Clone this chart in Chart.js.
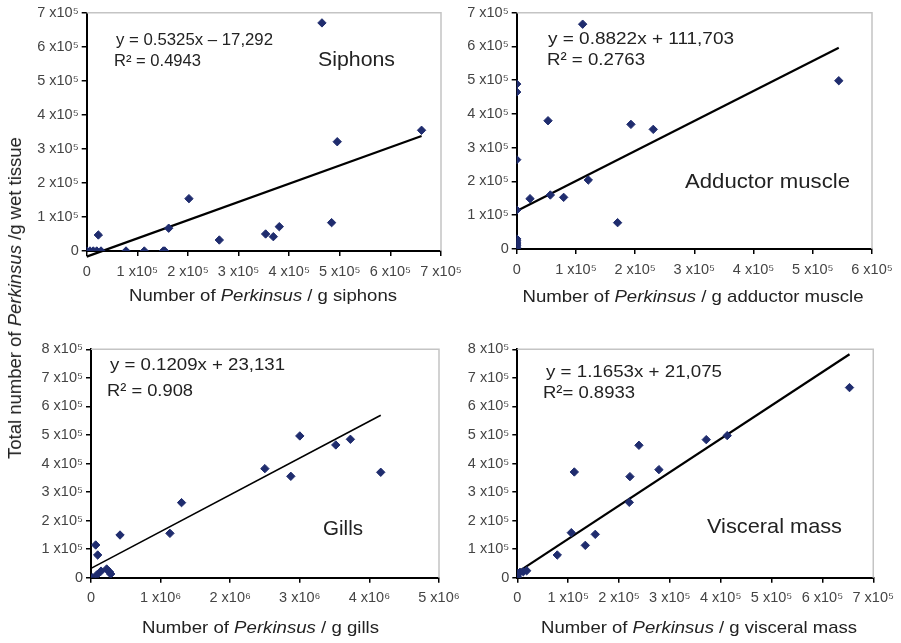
<!DOCTYPE html>
<html>
<head>
<meta charset="utf-8">
<script src="https://cdn.jsdelivr.net/npm/chart.js@4.4.1/dist/chart.umd.min.js"></script>
<style>
  body { margin: 0; background: #fff; }
  #wrap { position: relative; width: 901px; height: 643px; }
  #wrap canvas { position: absolute; left: 0; top: 0; }
  #ytitle {
    position: absolute; left: 14.5px; top: 298px; white-space: nowrap;
    transform: translate(-50%, -50%) rotate(-90deg);
    font-family: "Liberation Sans", Arial, sans-serif; font-size: 18.5px; color: #222;
  }
</style>
</head>
<body>
<div id="wrap">
  <canvas id="c1" width="901" height="643"></canvas>
  <canvas id="c2" width="901" height="643"></canvas>
  <canvas id="c3" width="901" height="643"></canvas>
  <canvas id="c4" width="901" height="643"></canvas>
  <div id="ytitle">Total number of <i>Perkinsus</i> /g wet tissue</div>
</div>
<script>
// --- data ---
var siphonsX = [0, 6500, 13000, 19800, 28300, 23000, 77700, 113800, 151400, 154000, 162000, 202000, 262000, 353500, 368700, 380500, 464800, 483900, 495000, 661600];
var siphonsY = [0, 0, 0, 0, 0, 47000, 0, 0, 0, 0, 67000, 153800, 32300, 50000, 42100, 71500, 670000, 83300, 321000, 354600];
var siphonsFitX = [0, 661600];
var siphonsFitY = [-16600, 337900];

var adductorX = [0, 0, 0, 0, 0, 0, 0, 0, 0, 0, 0, 22500, 52900, 56800, 79300, 111400, 120900, 170400, 192900, 230600, 543900];
var adductorY = [488600, 465000, 264600, 115500, 30000, 25000, 20000, 15000, 10000, 5000, 0, 149000, 380000, 160000, 153000, 666000, 204300, 78000, 369200, 354400, 498500];
var adductorFitX = [0, 543900];
var adductorFitY = [112500, 596000];

var gillsX = [14000, 67500, 96000, 82000, 144000, 225000, 263000, 283000, 417000, 1134000, 1301000, 2498000, 2871000, 3000000, 3517000, 3727000, 4163000];
var gillsY = [0, 114500, 79500, 9500, 23000, 30500, 21000, 13000, 149500, 155400, 262900, 382000, 355100, 496500, 465000, 484800, 369200];
var gillsFitX = [0, 4163000];
var gillsFitY = [32700, 569000];

var visceralX = [0, 0, 660, 5300, 11800, 18500, 78600, 106200, 112100, 133700, 153300, 220200, 221500, 239200, 278500, 371600, 412800, 653300];
var visceralY = [0, 3500, 15000, 18900, 21000, 24500, 79500, 157700, 370300, 113300, 151900, 264000, 354000, 463800, 378500, 483600, 497700, 665900];
var visceralFitX = [0, 653300];
var visceralFitY = [18700, 782700];

var FONT = '"Liberation Sans", Arial, sans-serif';
var MARK = '#1f2c6e';

function pairs(xs, ys) {
  return xs.map(function (x, i) { return { x: x, y: ys[i] }; });
}

function tickLabel(pow) {
  return function (v) { return v === 0 ? '0' : Math.round(v / Math.pow(10, pow)) + ' x10' + (pow === 6 ? '⁶' : '⁵'); };
}

// frame + text drawn on top: equations, panel names, x titles with italic genus
var textPlugin = {
  id: 'panelText',
  beforeDatasetsDraw: function (chart) {
    var a = chart.chartArea, ctx = chart.ctx;
    ctx.save();
    ctx.strokeStyle = '#c4c4c4';
    ctx.lineWidth = 1.5;
    ctx.beginPath();
    ctx.moveTo(a.left, a.top);
    ctx.lineTo(a.right, a.top);
    ctx.lineTo(a.right, a.bottom);
    ctx.stroke();
    ctx.restore();
  },
  afterDraw: function (chart, args, o) {
    var ctx = chart.ctx;
    ctx.save();
    ctx.fillStyle = '#222';
    ctx.textBaseline = 'middle';
    ctx.textAlign = 'left';
    o.texts.forEach(function (t) {
      ctx.font = t.size + 'px ' + FONT;
      var w = ctx.measureText(t.s).width;
      ctx.save();
      ctx.translate(t.x, t.y);
      ctx.scale(t.w / w, 1);
      ctx.fillText(t.s, 0, 0);
      ctx.restore();
    });
    // x-axis title
    var parts = ['Number of ', 'Perkinsus', ' / g ' + o.organ];
    var fonts = ['17px ' + FONT, 'italic 17px ' + FONT, '17px ' + FONT];
    var total = 0, ws = [];
    parts.forEach(function (p, i) { ctx.font = fonts[i]; ws.push(ctx.measureText(p).width); total += ws[i]; });
    var sx = o.titleW / total;
    ctx.save();
    ctx.translate(o.titleX - o.titleW / 2, o.titleY);
    ctx.scale(sx, 1);
    var cx = 0;
    parts.forEach(function (p, i) { ctx.font = fonts[i]; ctx.fillText(p, cx, 0); cx += ws[i]; });
    ctx.restore();
    ctx.restore();
  }
};

function makeChart(id, cfg) {
  var yW = 80, xH = 40;
  new Chart(document.getElementById(id), {
    type: 'scatter',
    data: {
      datasets: [{
        data: pairs(cfg.x, cfg.y),
        pointStyle: 'rectRot',
        pointRadius: 4.2,
        backgroundColor: MARK,
        borderColor: MARK,
        borderWidth: 1
      }, {
        data: pairs(cfg.fx, cfg.fy),
        showLine: true,
        pointRadius: 0,
        borderColor: '#000',
        borderWidth: cfg.lw,
        clip: false
      }]
    },
    options: {
      responsive: false,
      animation: false,
      events: [],
      layout: {
        padding: {
          left: cfg.area[0] - yW,
          top: cfg.area[1],
          right: 901 - cfg.area[2],
          bottom: 643 - cfg.area[3] - xH
        }
      },
      plugins: {
        legend: { display: false },
        tooltip: { enabled: false },
        panelText: cfg.text
      },
      scales: {
        x: {
          type: 'linear', min: 0, max: cfg.xmax,
          afterFit: function (s) { s.height = xH; },
          grid: { drawOnChartArea: false, drawTicks: true, tickLength: 5, color: '#000', lineWidth: 1.5 },
          border: { color: '#000', width: 2 },
          ticks: {
            stepSize: cfg.xstep, autoSkip: false, maxRotation: 0, padding: 7,
            color: '#444', font: { family: FONT, size: 14.5 },
            callback: tickLabel(cfg.xpow)
          }
        },
        y: {
          type: 'linear', min: 0, max: cfg.ymax,
          afterFit: function (s) { s.width = yW; },
          grid: { drawOnChartArea: false, drawTicks: true, tickLength: 5, color: '#000', lineWidth: 1.5 },
          border: { color: '#000', width: 2 },
          ticks: {
            stepSize: 100000, autoSkip: false, padding: 3,
            color: '#444', font: { family: FONT, size: 14.5 },
            callback: tickLabel(5)
          }
        }
      }
    },
    plugins: [textPlugin]
  });
}

makeChart('c1', {
  x: siphonsX, y: siphonsY, fx: siphonsFitX, fy: siphonsFitY, lw: 2.2,
  area: [86.7, 12.7, 441, 251], xmax: 700000, xstep: 100000, xpow: 5, ymax: 700000,
  text: {
    organ: 'siphons', titleX: 263, titleY: 296, titleW: 268,
    texts: [
      { s: 'y = 0.5325x – 17,292', x: 116, y: 41, size: 16, w: 157 },
      { s: 'R² = 0.4943', x: 114, y: 62, size: 16, w: 87 },
      { s: 'Siphons', x: 318, y: 60, size: 21, w: 77 }
    ]
  }
});

makeChart('c2', {
  x: adductorX, y: adductorY, fx: adductorFitX, fy: adductorFitY, lw: 2.2,
  area: [516.7, 12.7, 872, 249], xmax: 600000, xstep: 100000, xpow: 5, ymax: 700000,
  text: {
    organ: 'adductor muscle', titleX: 693, titleY: 297, titleW: 341,
    texts: [
      { s: 'y = 0.8822x + 111,703', x: 548, y: 39, size: 17, w: 186 },
      { s: 'R² = 0.2763', x: 547, y: 60, size: 17, w: 98 },
      { s: 'Adductor muscle', x: 685, y: 182, size: 21, w: 165 }
    ]
  }
});

makeChart('c3', {
  x: gillsX, y: gillsY, fx: gillsFitX, fy: gillsFitY, lw: 1.6,
  area: [91, 349.3, 439, 577.7], xmax: 5000000, xstep: 1000000, xpow: 6, ymax: 800000,
  text: {
    organ: 'gills', titleX: 260.5, titleY: 628, titleW: 237,
    texts: [
      { s: 'y = 0.1209x + 23,131', x: 110, y: 365, size: 17, w: 175 },
      { s: 'R² = 0.908', x: 107, y: 391, size: 17, w: 86 },
      { s: 'Gills', x: 323, y: 529, size: 21, w: 40 }
    ]
  }
});

makeChart('c4', {
  x: visceralX, y: visceralY, fx: visceralFitX, fy: visceralFitY, lw: 2.2,
  area: [517.3, 349.3, 873.3, 577.7], xmax: 700000, xstep: 100000, xpow: 5, ymax: 800000,
  text: {
    organ: 'visceral mass', titleX: 699, titleY: 628, titleW: 316,
    texts: [
      { s: 'y = 1.1653x + 21,075', x: 546, y: 372, size: 17, w: 176 },
      { s: 'R²= 0.8933', x: 543, y: 393, size: 17, w: 92 },
      { s: 'Visceral mass', x: 707, y: 527, size: 21, w: 135 }
    ]
  }
});
</script>
</body>
</html>
